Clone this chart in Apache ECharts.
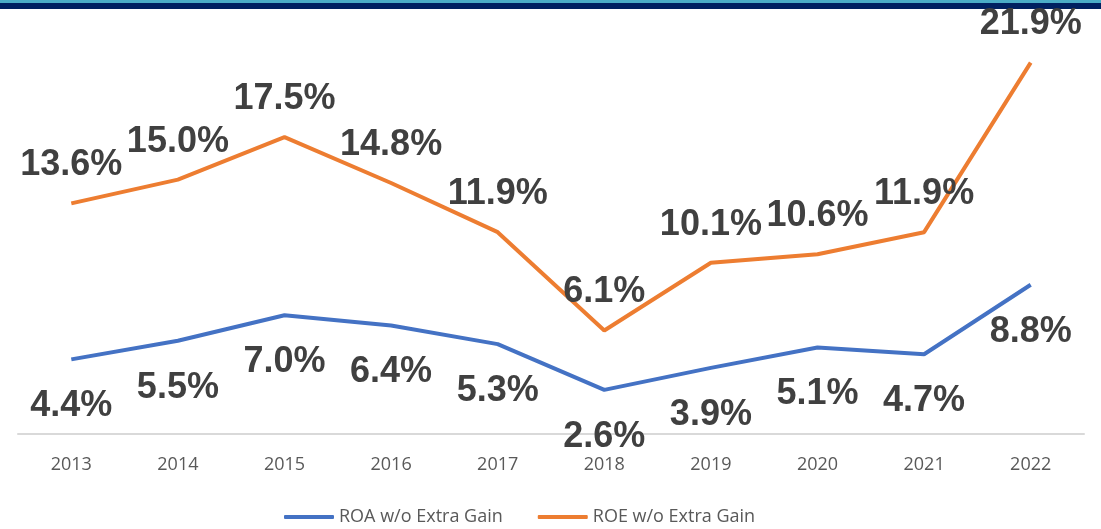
<html>
<head>
    <meta charset="UTF-8">
    <title>ROA / ROE</title>
    <script src="https://cdn.jsdelivr.net/npm/echarts@6/dist/echarts.min.js"></script>
    <style>
        body{ margin:0; background:#fff; }
        #main{ width:1101px; height:529px; }
    </style>
</head>
<body>
<div id="main"></div>
<script>
    const years = ['2013','2014','2015','2016','2017','2018','2019','2020','2021','2022'];
    const roa = [4.4, 5.5, 7.0, 6.4, 5.3, 2.6, 3.9, 5.1, 4.7, 8.8];
    const roe = [13.6, 15.0, 17.5, 14.8, 11.9, 6.1, 10.1, 10.6, 11.9, 21.9];

    let myChart = echarts.init(document.getElementById('main'));

    // 数据标签样式
    let labelStyle = {
        show: true,
        fontFamily: 'Liberation Sans, Arial',
        fontWeight: 'bold',
        fontSize: 36,
        color: '#404040',
        formatter: function (p) { return p.value.toFixed(1) + '%'; }
    };

    let option = {
        animation: false,
        graphic: [
            { type: 'rect', shape: { x: 0, y: 0, width: 1101, height: 3 }, style: { fill: '#4BACC6' } },
            { type: 'rect', shape: { x: 0, y: 3, width: 1101, height: 6 }, style: { fill: '#002060' } }
        ],
        grid: { left: 18, right: 17, top: 10, bottom: 95 },
        legend: {
            bottom: -2,
            left: 279,
            itemGap: 35,
            itemWidth: 50,
            itemHeight: 4,
            icon: 'roundRect',
            textStyle: { fontSize: 18, color: '#595959', fontFamily: 'Open Sans, Liberation Sans' },
            data: ['ROA w/o Extra Gain', 'ROE w/o Extra Gain']
        },
        xAxis: {
            type: 'category',
            data: years,
            axisLine: { lineStyle: { color: '#d9d9d9', width: 2 } },
            axisTick: { show: false },
            axisLabel: { fontSize: 18, color: '#595959', margin: 22, fontFamily: 'Open Sans, Liberation Sans' }
        },
        yAxis: {
            type: 'value',
            min: 0,
            max: 25,
            show: false
        },
        series: [
            {
                name: 'ROA w/o Extra Gain',
                type: 'line',
                data: roa,
                symbol: 'circle',
                symbolSize: 0,
                lineStyle: { color: '#4472C4', width: 4 },
                itemStyle: { color: '#4472C4' },
                label: Object.assign({}, labelStyle, { position: 'bottom', distance: 29 })
            },
            {
                name: 'ROE w/o Extra Gain',
                type: 'line',
                data: roe,
                symbol: 'circle',
                symbolSize: 0,
                lineStyle: { color: '#ED7D31', width: 4 },
                itemStyle: { color: '#ED7D31' },
                label: Object.assign({}, labelStyle, { position: 'top', distance: 20 })
            }
        ]
    };

    myChart.setOption(option);
</script>
</body>
</html>
